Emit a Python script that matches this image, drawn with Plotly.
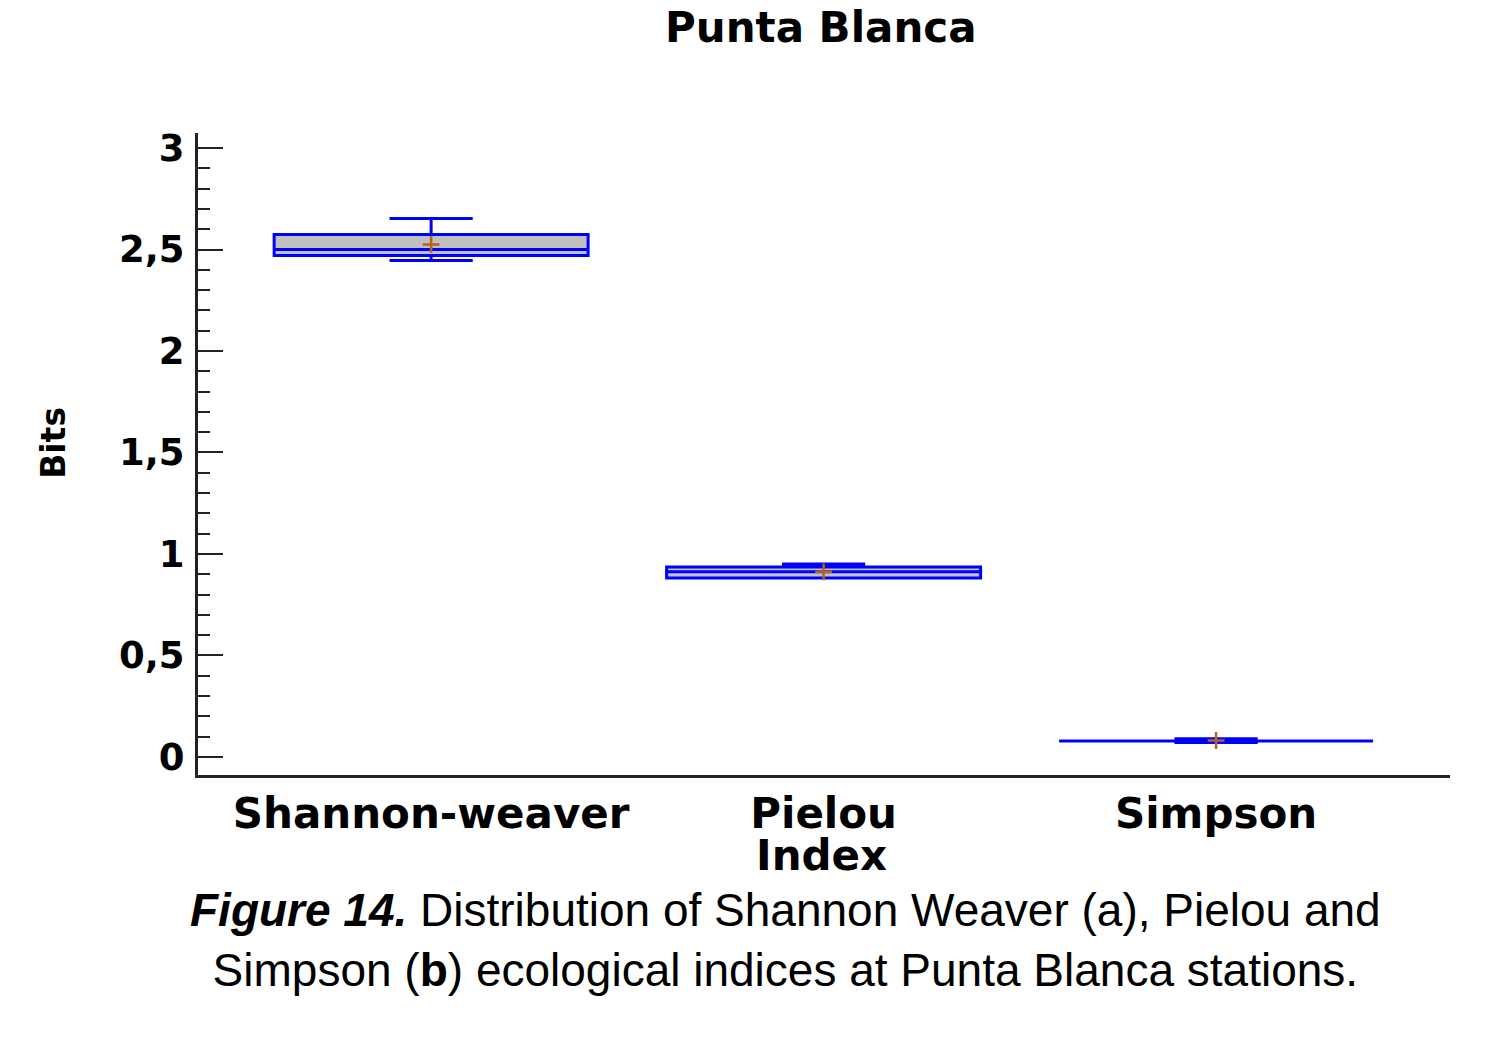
import plotly.graph_objects as go

# Valores (Bits)
indices = ["Shannon-weaver", "Pielou", "Simpson"]
q1 = [2.47, 0.882, 0.079]
median = [2.50, 0.912, 0.079]
q3 = [2.574, 0.936, 0.079]
lower_fence = [2.446, 0.882, 0.071]
upper_fence = [2.653, 0.951, 0.089]
means = [2.525, 0.912, 0.081]

box_line = "#0000ff"
box_fill = "#c0c0c0"
mean_color = "#b8621b"
axis_color = "#222222"
chart_font = "DejaVu Sans"

fig = go.Figure()

fig.add_trace(go.Box(
    x=indices, q1=q1, median=median, q3=q3,
    lowerfence=lower_fence, upperfence=upper_fence,
    width=0.8, whiskerwidth=0.265,
    fillcolor=box_fill, line=dict(color=box_line, width=3),
    boxpoints=False, showlegend=False))

fig.add_trace(go.Scatter(
    x=indices, y=means, mode="markers", showlegend=False,
    marker=dict(symbol="cross-thin", size=12, line=dict(color=mean_color, width=2.5))))

fig.update_layout(
    width=1485, height=1052,
    margin=dict(l=190, r=43, t=125, b=285),
    plot_bgcolor="#fff", paper_bgcolor="#fff",
    separators=", ",
    font=dict(family=chart_font, size=36, color="black", weight="bold"),
)

#ejes
fig.update_xaxes(
    range=[-0.594, 2.596], showgrid=False, zeroline=False,
    showline=True, linewidth=3, linecolor=axis_color, ticks="",
    tickfont=dict(family=chart_font, size=42, weight="bold"), ticklabelstandoff=0)

fig.update_yaxes(
    range=[-0.089, 3.074], showgrid=False, zeroline=False,
    showline=True, linewidth=3, linecolor=axis_color,
    tickmode="linear", tick0=0, dtick=0.5,
    ticks="inside", ticklen=25, tickwidth=2, tickcolor=axis_color,
    minor=dict(dtick=0.1, ticks="inside", ticklen=12, tickwidth=2, tickcolor=axis_color),
    tickfont=dict(family=chart_font, size=37, weight="bold"), ticklabelstandoff=3)

# títulos
fig.add_annotation(text="Punta Blanca", xref="paper", yref="paper", x=0.498, y=1.164,
                   xanchor="center", yanchor="middle", showarrow=False,
                   font=dict(family=chart_font, size=42, weight="bold"))
fig.add_annotation(text="Bits", xref="paper", yref="paper", x=-0.116, y=0.517, textangle=-90,
                   xanchor="center", yanchor="middle", showarrow=False,
                   font=dict(family=chart_font, size=33, weight="bold"))
fig.add_annotation(text="Index", xref="paper", yref="paper", x=0.498, y=-0.126,
                   xanchor="center", yanchor="middle", showarrow=False,
                   font=dict(family=chart_font, size=42, weight="bold"))

# leyenda de la figura
fig.add_annotation(
    text="<b><i>Figure 14.</i></b> Distribution of Shannon Weaver (a), Pielou and<br>"
         "Simpson (<b>b</b>) ecological indices at Punta Blanca stations.",
    xref="paper", yref="paper", x=0.4696, y=-0.257, xanchor="center", yanchor="middle",
    showarrow=False,
    font=dict(family="Liberation Sans", size=46, color="black", weight="normal"))

fig.write_html("out.html")
